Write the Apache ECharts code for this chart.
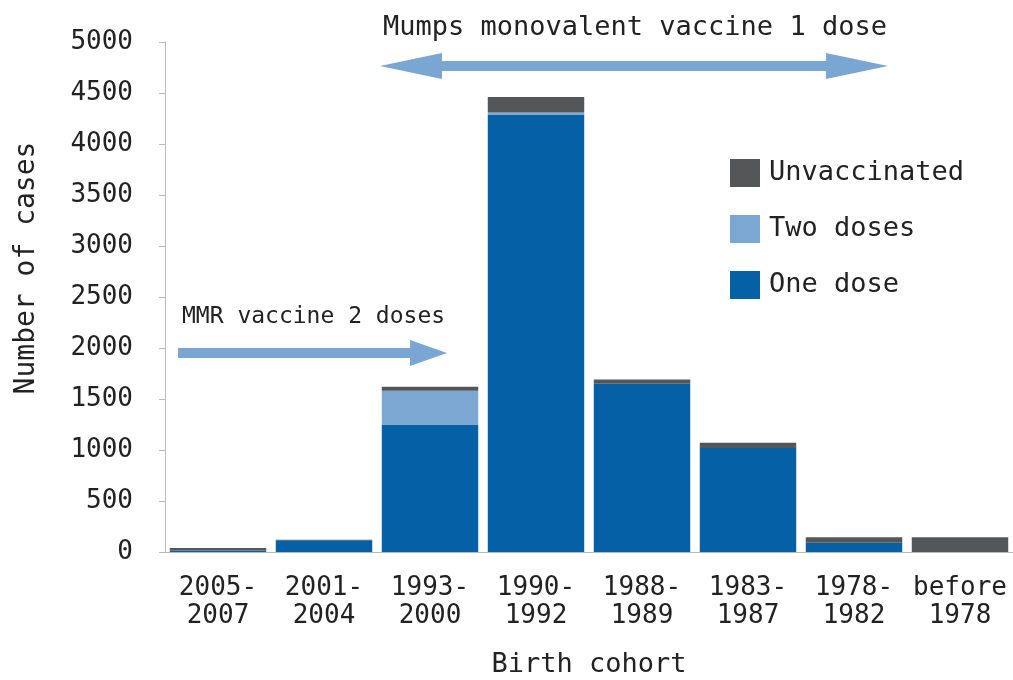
<!DOCTYPE html>
<html><head><meta charset="utf-8">
<script src="https://cdn.jsdelivr.net/npm/echarts@6/dist/echarts.min.js"></script>
<style>html,body{margin:0;padding:0;background:#fff}#c{width:1013px;height:680px}</style>
</head><body><div id="c"></div>
<script>
const categories = ['2005-\n2007','2001-\n2004','1993-\n2000','1990-\n1992','1988-\n1989','1983-\n1987','1978-\n1982','before\n1978'];
const oneDose = [15, 115, 1250, 4290, 1650, 1020, 90, 0];
const twoDoses = [0, 0, 330, 20, 0, 0, 0, 0];
const unvaccinated = [25, 5, 40, 150, 40, 50, 55, 145];
const yTicks = [0, 5000, 500];

const FONT = 'DejaVu Sans Mono';
const arrowColor = '#79a6d2';
const chart = echarts.init(document.getElementById('c'));
chart.setOption({
  animation: false,
  textStyle: {fontFamily: FONT},
  grid: {left: 165, right: 0, top: 42, bottom: 128, outerBoundsMode: 'none', containLabel: false},
  legend: {
    orient: 'vertical', left: 725, top: 154,
    data: ['Unvaccinated', 'Two doses', 'One dose'],
    icon: 'rect', itemWidth: 30, itemHeight: 28, itemGap: 28,
    textStyle: {fontFamily: FONT, fontSize: 27, color: '#222', padding: [0,0,0,4]}
  },
  xAxis: {
    type: 'category', data: categories,
    name: 'Birth cohort', nameLocation: 'middle', nameGap: 99,
    nameTextStyle: {fontFamily: FONT, fontSize: 27, color: '#222'},
    axisLine: {lineStyle: {color: '#bbb'}},
    axisTick: {lineStyle: {color: '#bbb'}, length: 6},
    axisLabel: {interval: 0, fontFamily: FONT, fontSize: 26, color: '#222', lineHeight: 28, margin: 22}
  },
  yAxis: {
    type: 'value', min: yTicks[0], max: yTicks[1], interval: yTicks[2],
    axisLine: {show: true, lineStyle: {color: '#bbb'}},
    axisTick: {show: true, lineStyle: {color: '#bbb'}, length: 6},
    splitLine: {show: false},
    axisLabel: {fontFamily: FONT, fontSize: 26, color: '#222', margin: 32, formatter: v => String(v)}
  },
  series: [
    {name: 'One dose', type: 'bar', stack: 't', data: oneDose, barCategoryGap: '9%', itemStyle: {color: '#0560a6'}},
    {name: 'Two doses', type: 'bar', stack: 't', data: twoDoses, itemStyle: {color: '#7ba7d2'}},
    {name: 'Unvaccinated', type: 'bar', stack: 't', data: unvaccinated, itemStyle: {color: '#545658'}}
  ],
  graphic: [
    {type: 'text', x: 27, y: 268, rotation: Math.PI / 2, style: {text: 'Number of cases', font: '28px "DejaVu Sans Mono"', fill: '#222', align: 'center', verticalAlign: 'middle'}},
    {type: 'text', left: 182, top: 306, style: {text: 'MMR vaccine 2 doses', font: '23px "DejaVu Sans Mono"', fill: '#222'}},
    {type: 'polygon', shape: {points: [[178,348],[410,348],[410,340],[447,353],[410,366],[410,358],[178,358]]}, style: {fill: arrowColor}},
    {type: 'text', left: 383, top: 14, style: {text: 'Mumps monovalent vaccine 1 dose', font: '27px "DejaVu Sans Mono"', fill: '#222'}},
    {type: 'polygon', shape: {points: [[380,66],[442,53],[442,61],[826,61],[826,53],[888,66],[826,79],[826,71],[442,71],[442,79]]}, style: {fill: arrowColor}}
  ]
});
</script></body></html>
